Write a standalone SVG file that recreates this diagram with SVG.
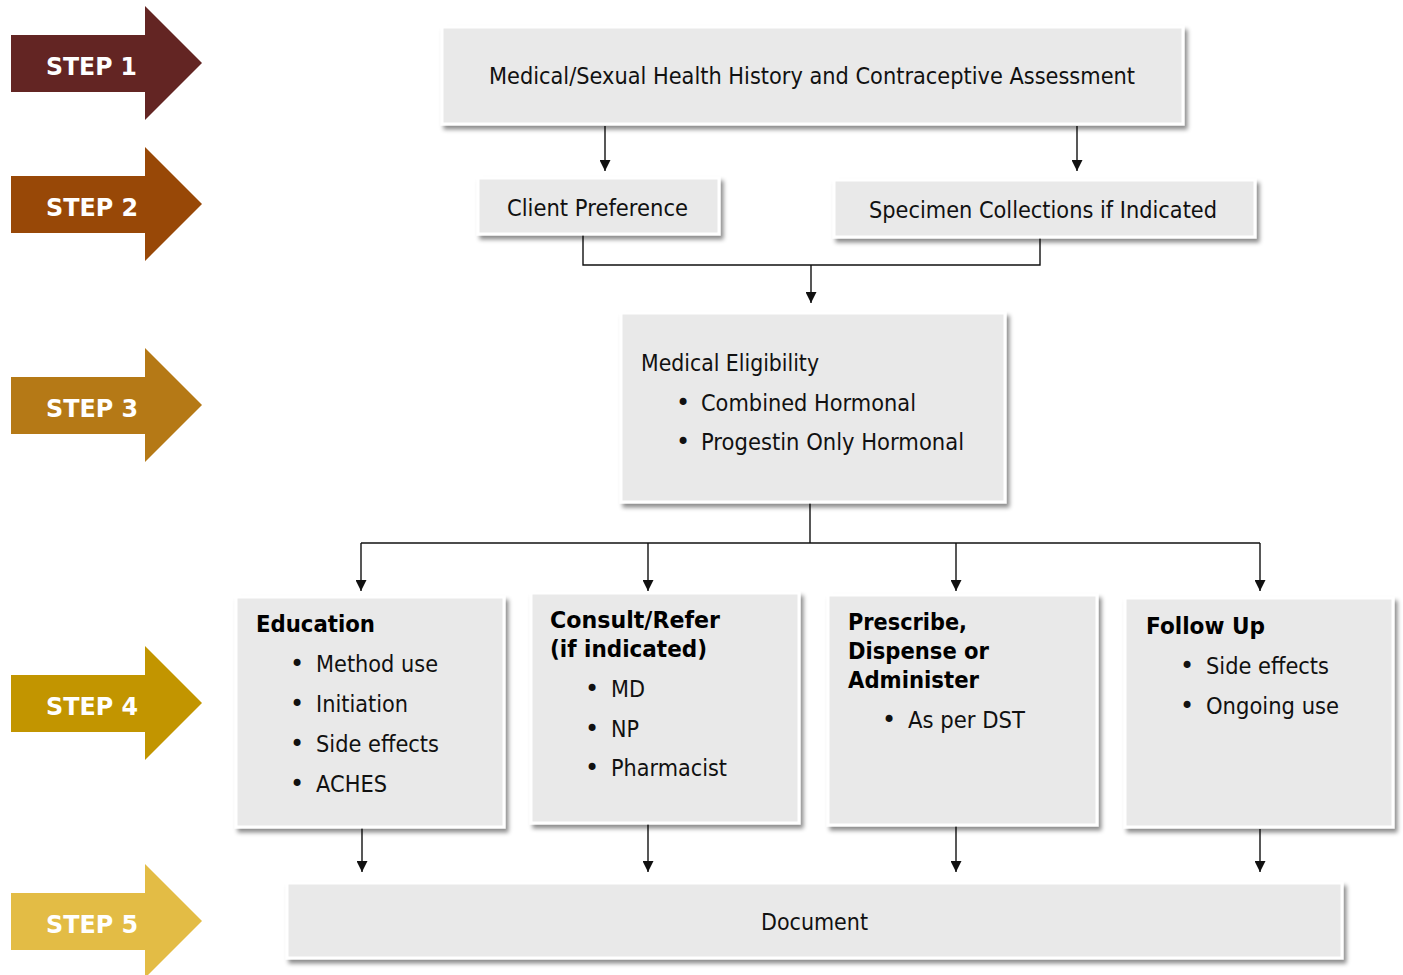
<svg xmlns="http://www.w3.org/2000/svg" width="1403" height="975" viewBox="0 0 1403 975">
<defs>
<filter id="sh" x="-5%" y="-10%" width="115%" height="130%">
<feDropShadow dx="3" dy="4" stdDeviation="2.2" flood-color="#000" flood-opacity="0.45"/>
</filter>
<marker id="ah" markerUnits="userSpaceOnUse" markerWidth="11" markerHeight="11" refX="11" refY="5.5" orient="auto">
<path d="M0,0 L11,5.5 L0,11 z" fill="#111"/>
</marker>
</defs>
<style>
.box{fill:#E9E9E9;stroke:#fff;stroke-width:3;filter:url(#sh)}
.t{font-family:"DejaVu Sans","Liberation Sans",sans-serif;font-size:23px;fill:#111}
.u{font-family:"DejaVu Sans","Liberation Sans",sans-serif;font-size:24px;fill:#111}
.b{font-family:"DejaVu Sans","Liberation Sans",sans-serif;font-size:22.5px;font-weight:bold;fill:#000}
.s{font-family:"DejaVu Sans","Liberation Sans",sans-serif;font-size:24px;font-weight:bold;fill:#fff}
.c{fill:none;stroke:#111;stroke-width:1.4}
.ca{fill:none;stroke:#111;stroke-width:1.4;marker-end:url(#ah)}
</style>
<rect width="1403" height="975" fill="#fff"/>

<g id="step1">
<polygon points="11,35 145,35 145,6 202,63 145,120 145,92 11,92" fill="#632523"/>
<text class="s" x="46" y="75" textLength="91" lengthAdjust="spacingAndGlyphs">STEP 1</text>
</g>
<g id="step2">
<polygon points="11,176 145,176 145,147 202,204 145,261 145,233 11,233" fill="#984807"/>
<text class="s" x="46" y="216" textLength="92" lengthAdjust="spacingAndGlyphs">STEP 2</text>
</g>
<g id="step3">
<polygon points="11,377 145,377 145,348 202,405 145,462 145,434 11,434" fill="#B57916"/>
<text class="s" x="46" y="417" textLength="92" lengthAdjust="spacingAndGlyphs">STEP 3</text>
</g>
<g id="step4">
<polygon points="11,675 145,675 145,646 202,703 145,760 145,732 11,732" fill="#C29500"/>
<text class="s" x="46" y="715" textLength="92" lengthAdjust="spacingAndGlyphs">STEP 4</text>
</g>
<g id="step5">
<polygon points="11,893 145,893 145,864 202,921 145,978 145,950 11,950" fill="#E3BC45"/>
<text class="s" x="46" y="933" textLength="92" lengthAdjust="spacingAndGlyphs">STEP 5</text>
</g>

<g id="connectors">
<path class="ca" d="M605,126 V171"/>
<path class="ca" d="M1077,126 V171"/>
<path class="c" d="M583,235 V265 H1040 V238"/>
<path class="ca" d="M811,265 V303"/>
<path class="c" d="M810,503 V543"/>
<path class="c" d="M361,543 H1260"/>
<path class="ca" d="M361,543 V591"/>
<path class="ca" d="M648,543 V591"/>
<path class="ca" d="M956,543 V591"/>
<path class="ca" d="M1260,543 V591"/>
<path class="ca" d="M362,828 V872"/>
<path class="ca" d="M648,824 V872"/>
<path class="ca" d="M956,826 V872"/>
<path class="ca" d="M1260,829 V872"/>
</g>

<g id="assessment">
<rect class="box" x="442" y="27" width="741" height="97"/>
<text class="t" x="489" y="84" textLength="646" lengthAdjust="spacingAndGlyphs">Medical/Sexual Health History and Contraceptive Assessment</text>
</g>
<g id="client-preference">
<rect class="box" x="478" y="178" width="241" height="56"/>
<text class="t" x="507" y="216" textLength="181" lengthAdjust="spacingAndGlyphs">Client Preference</text>
</g>
<g id="specimen">
<rect class="box" x="834" y="180" width="421" height="57"/>
<text class="t" x="869" y="218" textLength="348" lengthAdjust="spacingAndGlyphs">Specimen Collections if Indicated</text>
</g>
<g id="eligibility">
<rect class="box" x="621" y="313" width="384" height="189"/>
<text class="t" x="641" y="371" textLength="178" lengthAdjust="spacingAndGlyphs">Medical Eligibility</text>
<text class="u" x="683" y="411" text-anchor="middle">•</text>
<text class="t" x="701" y="411" textLength="215" lengthAdjust="spacingAndGlyphs">Combined Hormonal</text>
<text class="u" x="683" y="450" text-anchor="middle">•</text>
<text class="t" x="701" y="450" textLength="263" lengthAdjust="spacingAndGlyphs">Progestin Only Hormonal</text>
</g>
<g id="education">
<rect class="box" x="236" y="597" width="268" height="230"/>
<text class="b" x="256" y="632" textLength="119" lengthAdjust="spacingAndGlyphs">Education</text>
<text class="u" x="297" y="672" text-anchor="middle">•</text>
<text class="t" x="316" y="672" textLength="122" lengthAdjust="spacingAndGlyphs">Method use</text>
<text class="u" x="297" y="712" text-anchor="middle">•</text>
<text class="t" x="316" y="712" textLength="92" lengthAdjust="spacingAndGlyphs">Initiation</text>
<text class="u" x="297" y="752" text-anchor="middle">•</text>
<text class="t" x="316" y="752" textLength="123" lengthAdjust="spacingAndGlyphs">Side effects</text>
<text class="u" x="297" y="792" text-anchor="middle">•</text>
<text class="t" x="316" y="792" textLength="71" lengthAdjust="spacingAndGlyphs">ACHES</text>
</g>
<g id="consult">
<rect class="box" x="531" y="593" width="268" height="230"/>
<text class="b" x="550" y="628" textLength="170" lengthAdjust="spacingAndGlyphs">Consult/Refer</text>
<text class="b" x="550" y="657" textLength="157" lengthAdjust="spacingAndGlyphs">(if indicated)</text>
<text class="u" x="592" y="697" text-anchor="middle">•</text>
<text class="t" x="611" y="697" textLength="34" lengthAdjust="spacingAndGlyphs">MD</text>
<text class="u" x="592" y="737" text-anchor="middle">•</text>
<text class="t" x="611" y="737" textLength="28" lengthAdjust="spacingAndGlyphs">NP</text>
<text class="u" x="592" y="776" text-anchor="middle">•</text>
<text class="t" x="611" y="776" textLength="116" lengthAdjust="spacingAndGlyphs">Pharmacist</text>
</g>
<g id="prescribe">
<rect class="box" x="828" y="595" width="269" height="230"/>
<text class="b" x="848" y="630" textLength="119" lengthAdjust="spacingAndGlyphs">Prescribe,</text>
<text class="b" x="848" y="659" textLength="141" lengthAdjust="spacingAndGlyphs">Dispense or</text>
<text class="b" x="848" y="688" textLength="131" lengthAdjust="spacingAndGlyphs">Administer</text>
<text class="u" x="889" y="728" text-anchor="middle">•</text>
<text class="t" x="908" y="728" textLength="117" lengthAdjust="spacingAndGlyphs">As per DST</text>
</g>
<g id="follow-up">
<rect class="box" x="1125" y="598" width="268" height="229"/>
<text class="b" x="1146" y="634" textLength="119" lengthAdjust="spacingAndGlyphs">Follow Up</text>
<text class="u" x="1187" y="674" text-anchor="middle">•</text>
<text class="t" x="1206" y="674" textLength="123" lengthAdjust="spacingAndGlyphs">Side effects</text>
<text class="u" x="1187" y="714" text-anchor="middle">•</text>
<text class="t" x="1206" y="714" textLength="133" lengthAdjust="spacingAndGlyphs">Ongoing use</text>
</g>
<g id="document">
<rect class="box" x="287" y="883" width="1055" height="75"/>
<text class="t" x="761" y="930" textLength="107" lengthAdjust="spacingAndGlyphs">Document</text>
</g>
</svg>
